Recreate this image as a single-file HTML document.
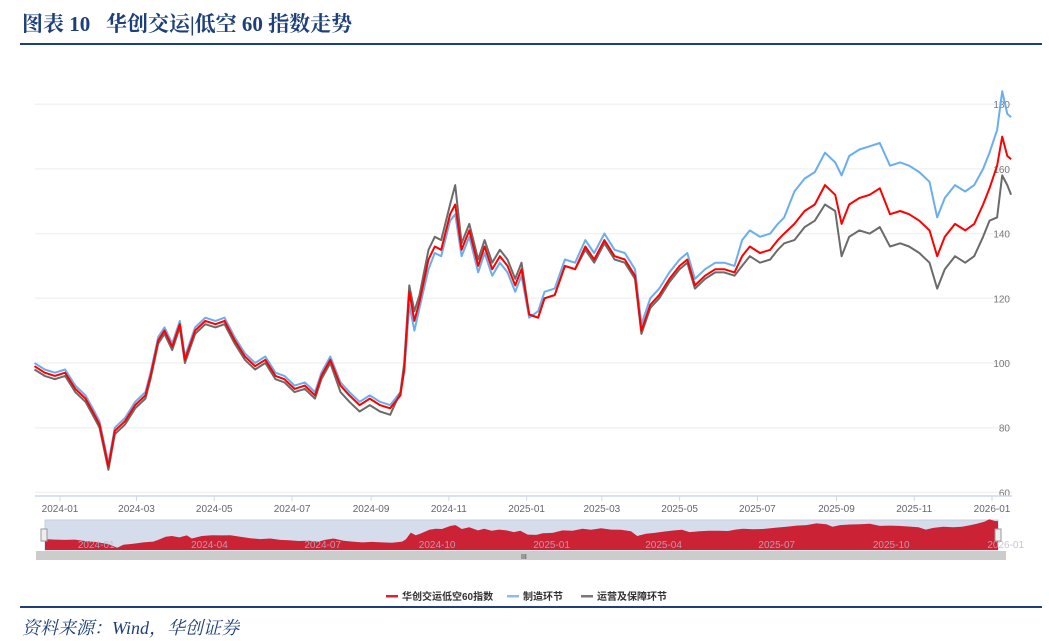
<!DOCTYPE html>
<html><head><meta charset="utf-8"><style>
body{margin:0;width:1049px;height:641px;background:#fff;overflow:hidden;font-family:"Liberation Sans","Noto Sans CJK SC",sans-serif;}
#title{position:absolute;left:22px;top:8px;font:bold 21px "Liberation Serif","Noto Serif CJK SC",serif;color:#1d3f7a;}
#src{position:absolute;left:22px;top:614px;font:italic 18px "Liberation Serif","Noto Serif CJK SC",serif;color:#1d3f7a;}
.hl{position:absolute;left:20px;width:1022px;height:2px;background:#1d3f7a;}
</style></head><body>
<div id="title">图表 10&nbsp;&nbsp;&nbsp;华创交运|低空 60 指数走势</div>
<div class="hl" style="top:43px"></div>
<div class="hl" style="top:606px"></div>
<div id="src">资料来源：Wind，华创证券</div>
<svg id="chart" width="1049" height="641" style="position:absolute;left:0;top:0"></svg>
<script>
const days=[-20,-12,-4,4,12,20,27,31,38,43,51,59,67,71,77,82,88,94,98,106,114,122,129,137,145,153,161,169,176,184,192,200,205,212,220,227,235,243,251,259,267,270,274,278,282,289,294,299,306,310,315,321,328,333,339,345,351,357,362,368,375,380,388,396,404,412,419,427,435,443,451,456,463,470,478,486,492,498,506,514,521,529,535,541,549,557,563,568,576,584,592,600,608,613,619,627,635,643,651,659,666,674,682,688,694,702,710,717,724,729,735,739,743,746];
const lowAlt=[99,97,96,97,92,89,84,81,68,79,82,87,90,96,107,110,105,112,101,110,113,112,113,107,102,99,101,96,95,92,93,90,96,101,93,90,87,89,87,86,90,98,122,113,119,132,136,135,146,149,135,141,130,136,129,133,130,124,129,115,114,120,121,130,129,136,132,138,133,132,127,110,118,121,126,130,132,124,127,129,129,128,133,136,134,135,138,140,143,147,149,155,152,143,149,151,152,154,146,147,146,144,141,133,139,143,141,143,149,154,161,170,164,163];
const manuf=[100,98,97,98,93,90,85,82,69,80,83,88,91,97,108,111,106,113,102,111,114,113,114,108,103,100,102,97,96,93,94,91,97,102,94,91,88,90,88,87,91,97,118,110,117,129,134,133,144,146,133,139,128,134,127,131,128,122,127,114,116,122,123,132,131,138,134,140,135,134,129,112,120,123,128,132,134,126,129,131,131,130,138,141,139,140,143,145,153,157,159,165,162,158,164,166,167,168,161,162,161,159,156,145,151,155,153,155,160,165,172,184,177,176];
const ops=[98,96,95,96,91,88,83,80,67,78,81,86,89,95,106,109,104,111,100,109,112,111,112,106,101,98,100,95,94,91,92,89,95,100,91,88,85,87,85,84,91,100,124,116,121,135,139,138,149,155,137,143,132,138,131,135,132,126,131,115,114,120,121,130,129,135,131,137,132,131,126,109,117,120,125,129,131,123,126,128,128,127,130,133,131,132,135,137,138,142,144,149,147,133,139,141,140,142,136,137,136,134,131,123,129,133,131,133,139,144,145,158,155,152];
const yTicks=[60,80,100,120,140,160,180];
const xTicks=["2024-01","2024-03","2024-05","2024-07","2024-09","2024-11","2025-01","2025-03","2025-05","2025-07","2025-09","2025-11","2026-01"];
const xTickDays=[0,60,121,182,244,305,366,425,486,547,609,670,731];
const sliderTicks=["2024-01","2024-04","2024-07","2024-10","2025-01","2025-04","2025-07","2025-10","2026-01"];
const sliderTickDays=[0,91,182,274,366,456,547,639,731];

const NS="http://www.w3.org/2000/svg",svg=document.getElementById('chart');
function mk(t,a,p){const e=document.createElementNS(NS,t);for(const k in a)e.setAttribute(k,a[k]);(p||svg).appendChild(e);return e;}
const X=d=>60+d*932/731, Y=v=>363-(v-100)*3.235;
const dMin=days[0],dMax=days[days.length-1];
const SX=d=>45+(d-dMin)*(998-45)/(dMax-dMin), SY=v=>550-(v-60)*0.28;

yTicks.forEach(v=>{
 const g=mk('line',{x1:35,x2:1012,y1:Y(v),y2:Y(v),stroke:'#f2f2f2','stroke-width':1.5});
 
 
 const t=mk('text',{x:1010,y:Y(v)+4,'text-anchor':'end','font-size':10,fill:'#777'});t.textContent=v;
 
 
});
const ax=mk('line',{x1:35,x2:1012,y1:496,y2:496,stroke:'#cfd8ea','stroke-width':1.5});


xTicks.forEach((s,i)=>{
 const x=X(xTickDays[i]);
 const l=mk('line',{x1:x,x2:x,y1:496,y2:501,stroke:'#cfd8ea'});
 
 
 const t=mk('text',{x:x,y:512,'text-anchor':'middle','font-size':10,fill:'#666'});t.textContent=s;
 
 
});
function line(arr,col,name){
 const d=arr.map((v,i)=>(i?'L':'M')+X(days[i]).toFixed(1)+','+Y(v).toFixed(1)).join('');
 const p=mk('path',{d:d,fill:'none',stroke:col,'stroke-width':2,'stroke-linejoin':'round'});
 
 
}
line(manuf,'#6aaef0','manufacturing-line');
line(ops,'#6b6b6b','operations-line');
line(lowAlt,'#ff0000','low-altitude-index-line');

const sb=mk('rect',{x:45,y:520,width:953,height:30,fill:'#d5dcec',stroke:'#c8cfdd'});


const ad='M'+SX(days[0])+',550'+lowAlt.map((v,i)=>'L'+SX(days[i]).toFixed(1)+','+SY(v).toFixed(1)).join('')+'L'+SX(dMax)+',550Z';
const ar=mk('path',{d:ad,fill:'#cc2236'});


sliderTicks.forEach((s,i)=>{
 const t=mk('text',{x:SX(sliderTickDays[i])+8,y:548,'font-size':10,fill:'#b8b8c8','opacity':0.8});t.textContent=s;
 
 
});
[41,995].forEach(x=>{const h=mk('rect',{x:x,y:529,width:6,height:12,fill:'#eee',stroke:'#999'});
 
 });
const sc=mk('rect',{x:36,y:551,width:970,height:9,fill:'#cccccc'});


const st=mk('text',{x:521,y:559,'font-size':7,fill:'#333'});st.textContent='III';



const leg=[['华创交运低空60指数','#e02030',386],['制造环节','#8fbce8',507],['运营及保障环节','#777',581]];
leg.forEach(([s,c,x])=>{
 const r=mk('rect',{x:x,y:595,width:12,height:2.5,fill:c});
 
 
 const t=mk('text',{x:x+16,y:600,'font-size':10,'font-weight':'bold',fill:'#333'});t.textContent=s;
 
 
});
</script>
</body></html>
